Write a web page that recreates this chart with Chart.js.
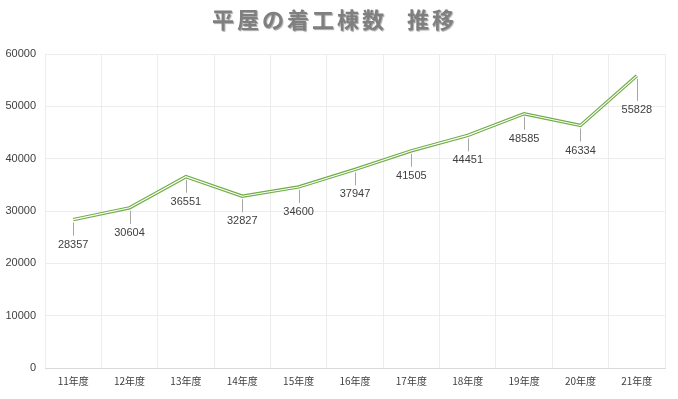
<!DOCTYPE html>
<html>
<head>
<meta charset="utf-8">
<script src="https://cdn.jsdelivr.net/npm/chart.js@4/dist/chart.umd.min.js"></script>
<style>
  html, body { margin: 0; padding: 0; background: #fff; }
  #chart { display: block; }
</style>
</head>
<body>
<canvas id="chart" width="678" height="399"></canvas>
<script>
// Chart data
const titleMain = '平屋の着工棟数';
const titleSub = '推移';
const years = ['11年度', '12年度', '13年度', '14年度', '15年度', '16年度', '17年度', '18年度', '19年度', '20年度', '21年度'];
const starts = [28357, 30604, 36551, 32827, 34600, 37947, 41505, 44451, 48585, 46334, 55828];
const yTicks = [0, 10000, 20000, 30000, 40000, 50000, 60000];

const numFont = '"Liberation Sans", "DejaVu Sans", sans-serif';
const cjkFont = '"Noto Sans CJK JP", sans-serif';

// Title drawn by hand so it can carry the soft shadow
const titlePlugin = {
  id: 'shadowTitle',
  afterDraw(chart) {
    const ctx = chart.ctx;
    ctx.save();
    ctx.font = 'bold 22px ' + cjkFont;
    ctx.letterSpacing = '3px';
    ctx.textAlign = 'left';
    ctx.textBaseline = 'middle';
    ctx.shadowColor = 'rgba(0,0,0,0.35)';
    ctx.shadowOffsetX = 1;
    ctx.shadowOffsetY = 1;
    ctx.shadowBlur = 1;
    ctx.fillStyle = '#7f7f7f';
    ctx.fillText(titleMain, 212, 20);
    ctx.fillText(titleSub, 407, 20);
    ctx.restore();
  }
};

// Value labels under each point with a small leader line
const labelPlugin = {
  id: 'pointLabels',
  afterDatasetsDraw(chart) {
    const ctx = chart.ctx;
    const meta = chart.getDatasetMeta(0);
    ctx.save();
    ctx.font = '11px ' + numFont;
    ctx.textAlign = 'center';
    ctx.textBaseline = 'middle';
    meta.data.forEach((pt, i) => {
      const off = i === meta.data.length - 1 ? 34 : 25;
      ctx.strokeStyle = '#a6a6a6';
      ctx.lineWidth = 1;
      ctx.beginPath();
      ctx.moveTo(Math.round(pt.x) + 0.5, pt.y + 3);
      ctx.lineTo(Math.round(pt.x) + 0.5, pt.y + off - 9);
      ctx.stroke();
      ctx.fillStyle = '#404040';
      ctx.fillText(String(starts[i]), pt.x, pt.y + off);
    });
    ctx.restore();
  }
};

new Chart(document.getElementById('chart'), {
  type: 'line',
  data: {
    labels: years,
    datasets: [
      {
        // outer green stroke of the double line
        data: starts,
        borderColor: '#70ad47',
        borderWidth: 3.4,
        pointRadius: 0,
        tension: 0,
        fill: false,
        order: 1
      },
      {
        // white core, drawn on top
        data: starts,
        borderColor: '#ffffff',
        borderWidth: 1.1,
        pointRadius: 0,
        tension: 0,
        fill: false,
        order: 0
      }
    ]
  },
  options: {
    responsive: false,
    animation: false,
    layout: { padding: { top: 54, right: 13, left: 0, bottom: 0 } },
    plugins: {
      legend: { display: false },
      tooltip: { enabled: false },
      title: { display: false }
    },
    scales: {
      x: {
        offset: true,
        grid: { offset: true, color: '#ececec', drawTicks: false },
        border: { color: '#d9d9d9' },
        ticks: { padding: 7, color: '#404040', font: { family: cjkFont, size: 10 } },
        afterFit(scale) { scale.height = 31; }
      },
      y: {
        min: 0,
        max: 60000,
        afterBuildTicks(scale) { scale.ticks = yTicks.map(v => ({ value: v })); },
        grid: { color: '#ececec', drawTicks: false },
        border: { display: false },
        ticks: {
          padding: 9,
          color: '#404040',
          font: { family: numFont, size: 11 },
          callback: v => String(v)
        },
        afterFit(scale) { scale.width = 45; }
      }
    }
  },
  plugins: [titlePlugin, labelPlugin]
});
</script>
</body>
</html>
